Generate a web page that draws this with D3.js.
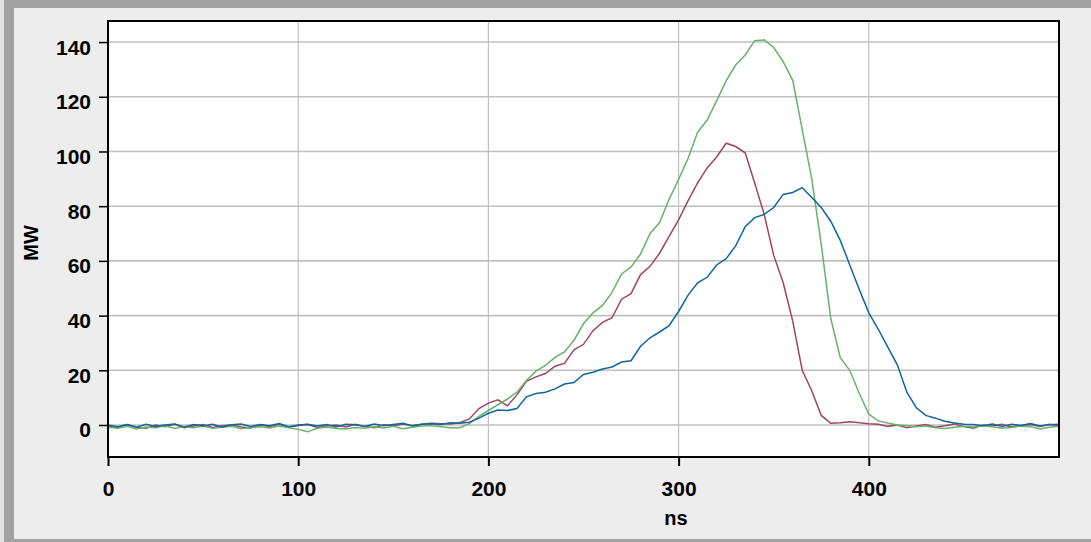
<!DOCTYPE html>
<html lang="en">
<head>
  <meta charset="UTF-8">
  <title>Power trace</title>
  <script src="https://d3js.org/d3.v7.min.js"></script>
  <style>
    body {
      margin: 0;
      background: #ececec;
      font-family: "Liberation Sans", Arial, sans-serif;
    }

    svg {
      display: block;
    }

    .tick-label {
      font-size: 21px;
      font-weight: bold;
      fill: #000;
    }

    .axis-title {
      font-size: 20px;
      font-weight: bold;
      fill: #000;
    }

    .grid line {
      stroke: #c0c0c0;
    }

    .trace {
      fill: none;
      stroke-width: 1.5;
    }
  </style>
</head>
<body>
  <svg id="chart"></svg>
  <script>
    // Sample grid (ns)
    const times = d3.range(0, 505, 5);

    // Series values (MW), one per sample time
    const blueValues = [
      0, -0.6, 0.2, -0.8, 0.3, -0.5, 0, 0.4, -0.7, 0.2, -0.4, 0.3, -0.8, 0.1, 0.4, -0.5, 0.2, -0.3, 0.5, -0.6,
      0, 0.3, -0.4, 0.2, -0.7, 0.3, 0.1, -0.5, 0.4, -0.3, 0.2, 0.6, -0.4, 0.3, 0.5, 0.2, 0.8,
      0.6, 1.0, 2.5, 4.3, 5.5, 5.3, 6.0, 10.3, 11.5, 12, 13.2, 15, 15.5, 18.5, 19.3, 20.5, 21.2, 23, 23.5, 28.8,
      31.9, 34, 36.3, 41.5, 47.5, 52, 54, 58.5, 60.8, 65.5, 72.5, 75.8, 77, 79.5, 84.3, 85, 86.8, 83.2, 79.5,
      74.5, 67.5, 58.5, 49.5, 41, 35, 28.5, 22, 12, 6.3, 3.5, 2.5, 1.4, 0.7, 0.3,
      0.2, -0.3, 0.4, -0.5, 0.3, -0.2, 0.5, -0.4, 0.1, 0.3
    ];

    const redValues = [
      -0.5, -1, 0.2, -0.8, -1.2, 0, -0.6, 0.3, -1, -0.4, 0.2, -0.9, -0.3, 0.1, -0.7, -1.1, 0, -0.5, 0.3, -0.8,
      -0.2, 0.2, -0.9, -0.4, 0, -0.7, 0.3, -0.5, -1, 0.1, -0.3, 0.4, -0.2, 0.3, 0.6,
      0.5, 0.4, 0.8, 2.2, 6, 8, 9.2, 7, 11, 16, 17.6, 18.8, 21.5, 22.5, 27.5, 29.5, 34.5, 37.5, 39.2, 46,
      48, 55, 58, 62.8, 69, 75, 82, 88.5, 94, 98, 103, 101.8, 99.5, 88.5, 77, 62, 52, 38, 20, 12.5,
      3.5, 0.6, 0.8, 1.2, 0.8, 0.5,
      0.3, -0.5, 0, -1, -0.4, 0.2, -0.8, -0.3, 0.4, -0.6, -1.2, 0, -0.4, 0.3, -0.7, -0.2, 0.2, -0.5, 0.3, -0.3
    ];

    const greenValues = [
      -0.8, -1.2, -0.5, -1.5, -0.7, -1, -0.3, -1.3, -0.6, -1, -0.4, -1.2, -0.8, -0.5, -1.4, -0.9, -0.6, -1.1, -0.4, -1,
      -1.6, -2.5, -1.2, -0.7, -1.3, -1.5, -0.9, -1.2, -0.6, -1.1, -0.5, -1.4, -0.8, -0.4, -0.2, -0.6, -1.0,
      -1, 0.5, 3.2, 5.3, 7.4, 9.5, 12, 16.3, 19.7, 21.8, 24.7, 26.7, 31, 37, 41, 43.7, 48.5, 55.2, 57.8, 62.5,
      70, 74, 82.5, 89.8, 97.5, 107, 111.5, 118.5, 125.8, 131.6, 135.3, 140.5, 140.8, 138, 132.8, 126, 108, 90, 66,
      39, 24.6, 20, 11.5, 4, 1.5, 0.7, 0,
      -0.3, -0.6, -0.4, -1, -1.3, -0.8, -0.5, -0.7, -0.3, -0.6, -1.2, -0.9, -0.4, -0.6, -1.5, -0.8, -0.5
    ];

    const xTicks = [0, 100, 200, 300, 400];
    const yTicks = [0, 20, 40, 60, 80, 100, 120, 140];

    const width = 1091;
    const height = 542;
    const plot = { left: 108, top: 21, right: 1059, bottom: 457 };

    const svg = d3.select("#chart")
      .attr("width", width)
      .attr("height", height);

    // Panel frame with a grey shadow edge
    svg.append("rect")
      .attr("width", width).attr("height", height)
      .attr("fill", "#e2e2e2");
    svg.append("rect")
      .attr("x", 4).attr("y", 0)
      .attr("width", width - 4).attr("height", height)
      .attr("fill", "#a2a2a2");
    svg.append("rect")
      .attr("x", 14).attr("y", 8)
      .attr("width", width - 14).attr("height", 531)
      .attr("fill", "#ededed");

    const x = d3.scaleLinear().domain([0, 500]).range([plot.left, plot.right]);
    const y = d3.scaleLinear().domain([-11.7, 147.7]).range([plot.bottom, plot.top]);

    // Plot background
    svg.append("rect")
      .attr("x", plot.left).attr("y", plot.top)
      .attr("width", plot.right - plot.left)
      .attr("height", plot.bottom - plot.top)
      .attr("fill", "#fff");

    // Grid
    svg.append("g")
      .attr("class", "grid")
      .selectAll("line.v")
      .data(xTicks.filter(d => d > 0))
      .join("line")
      .attr("x1", d => x(d)).attr("x2", d => x(d))
      .attr("y1", plot.top).attr("y2", plot.bottom)
      .attr("stroke-width", 1.2);

    svg.append("g")
      .attr("class", "grid")
      .selectAll("line.h")
      .data(yTicks)
      .join("line")
      .attr("x1", plot.left).attr("x2", plot.right)
      .attr("y1", d => y(d)).attr("y2", d => y(d))
      .attr("stroke-width", 1.6);

    // Traces
    const line = d3.line()
      .x((d, i) => x(times[i]))
      .y(d => y(d));

    const series = [
      { values: redValues, color: "#9e4564" },
      { values: greenValues, color: "#69b269" },
      { values: blueValues, color: "#0f679c" }
    ];

    svg.append("g")
      .selectAll("path")
      .data(series)
      .join("path")
      .attr("class", "trace")
      .attr("stroke", d => d.color)
      .attr("d", d => line(d.values));

    // Plot border
    svg.append("rect")
      .attr("x", plot.left).attr("y", plot.top)
      .attr("width", plot.right - plot.left)
      .attr("height", plot.bottom - plot.top)
      .attr("fill", "none")
      .attr("stroke", "#000")
      .attr("stroke-width", 2);

    // Y axis
    const yAxis = d3.axisLeft(y).tickValues(yTicks).tickSize(9).tickPadding(8);
    const gy = svg.append("g")
      .attr("transform", `translate(${plot.left},0)`)
      .call(yAxis);
    gy.select(".domain").remove();
    gy.selectAll(".tick line").attr("stroke", "#000").attr("stroke-width", 1.5);
    gy.selectAll(".tick text")
      .attr("class", "tick-label")
      .attr("x", -17)
      .attr("dy", "12px")
      .style("font-family", "'Liberation Sans', Arial, sans-serif");

    // X axis
    const xAxis = d3.axisBottom(x).tickValues(xTicks).tickSize(9).tickPadding(14);
    const gx = svg.append("g")
      .attr("transform", `translate(0,${plot.bottom})`)
      .call(xAxis);
    gx.select(".domain").remove();
    gx.selectAll(".tick line").attr("stroke", "#000").attr("stroke-width", 2);
    gx.selectAll(".tick text")
      .attr("class", "tick-label")
      .attr("y", 39)
      .attr("dy", 0)
      .style("font-family", "'Liberation Sans', Arial, sans-serif");

    // Axis titles
    svg.append("text")
      .attr("class", "axis-title")
      .attr("x", 676)
      .attr("y", 525)
      .attr("text-anchor", "middle")
      .text("ns");

    svg.append("text")
      .attr("class", "axis-title")
      .attr("transform", `translate(38,${(plot.top + plot.bottom) / 2 + 4}) rotate(-90)`)
      .attr("text-anchor", "middle")
      .text("MW");
  </script>
</body>
</html>
